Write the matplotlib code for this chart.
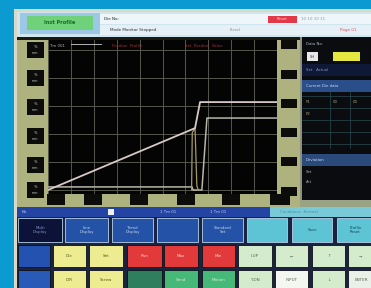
import matplotlib
matplotlib.use("Agg")
import matplotlib.pyplot as plt
from matplotlib.patches import Rectangle

# ---- data ----
pos_t = [0.0, 6.42, 6.64, 10.0]
pos_y = [0.0, 2.21, 3.14, 3.14]
spd_t = [0.0, 6.29, 6.33, 6.72, 6.94, 10.0]
spd_y = [0.11, 0.11, 0.0, 0.0, 2.57, 2.57]
prs_t = [6.27, 6.30, 6.42, 6.50, 6.56]
prs_y = [0.0, 2.05, 2.21, 0.15, 0.0]
x_ticks = list(range(0, 11))
y_ticks = list(range(0, 6))

row1_labels = ["Multi\nDisplay", "Line\nDisplay", "Trend\nDisplay", "", "Standard\nSet", "", "Save", "Profile\nReset"]
row2_labels = ["", "Die", "Set", "Run", "Max", "Min", "I-UP", "\u2190", "\u2191", "\u2192"]
row3_labels = ["", "DIR", "Screw", "", "Send", "Motion", "Y-DN", "INPUT", "\u2193", "ENTER"]

W, H = 371, 288
fig = plt.figure(figsize=(W / 100, H / 100), dpi=100)
fig.patch.set_facecolor("#0b9bd0")
bg = fig.add_axes([0, 0, 1, 1])
bg.set_xlim(0, W)
bg.set_ylim(H, 0)
bg.axis("off")


def rect(x0, y0, x1, y1, fc, ec="none", lw=0.0, z=1):
    bg.add_patch(Rectangle((x0, y0), x1 - x0, y1 - y0, facecolor=fc,
                           edgecolor=ec, linewidth=lw, zorder=z))


def txt(x, y, s, c="#202020", fs=3.2, ha="left", z=5, **kw):
    bg.text(x, y, s, color=c, fontsize=fs, ha=ha, va="center", zorder=z, **kw)


# screen frame
rect(14, 9, W, H, "#dcd8c8")
# header
rect(17, 12, W, 37, "#cfe6ee")
rect(20, 13, 100, 34, "#9cc8e6")
rect(27, 16, 93, 30, "#6fd27a")
txt(60, 23, "Inst Profile", c="#1d6a2a", fs=3.6, ha="center", weight="bold")
rect(100, 14, W, 24, "#eef6fa")
rect(100, 25, W, 35, "#e4f0f6")
txt(104, 19, "Die No:", fs=3.0)
rect(268, 16, 297, 23, "#e23848")
txt(282, 19.5, "Reset", c="#ffd0d0", fs=2.8, ha="center")
txt(301, 19.5, "10 10 10 11", c="#8a98a8", fs=3.0)
txt(110, 30, "Mode Monitor Stopped", c="#303030", fs=3.0)
txt(230, 30, "Fixed", c="#909090", fs=3.0)
txt(340, 30, "Page 01", c="#e05060", fs=3.0)

# side strips
rect(17, 37, 300, 207, "#adb27e")
rect(17, 37, 300, 40, "#1a1a14")
for yc in [50, 78, 107, 136, 165, 190]:
    rect(27, yc - 8, 44, yc + 8, "#0c0c0a")
    txt(35.5, yc - 3, "%", c="#c8c8c0", fs=2.6, ha="center")
    txt(35.5, yc + 3, "mm", c="#c8c8c0", fs=2.4, ha="center")
for yc in [44, 74, 103, 132, 161, 191]:
    rect(281, yc - 4.5, 297, yc + 4.5, "#0c0c0a")
for x0, x1 in [(47, 65), (84, 102), (130, 148), (177, 195), (222, 240), (270, 290)]:
    rect(x0, 194, x1, 205, "#0c0c0a")

# right data panel
rect(300, 37, W, 207, "#0a0c10")
rect(300, 37, 302, 207, "#8c9080")
txt(306, 44, "Data No.", c="#b0b8c0", fs=2.8)
rect(307, 52, 318, 61, "#e8e8e8")
txt(312.5, 56.5, "SH", c="#303030", fs=2.6, ha="center")
rect(333, 52, 360, 61, "#e6e640")
rect(302, 64, W, 76, "#101838")
txt(306, 70, "Set   Actual", c="#8090c0", fs=2.8)
rect(302, 80, W, 92, "#2a4e8a")
txt(306, 86, "Current Die data", c="#c8d8f0", fs=2.8)
for yy in [96, 108, 120, 132, 144]:
    bg.plot([302, W], [yy, yy], color="#2a4a50", lw=0.5, zorder=3)
bg.plot([330, 330], [92, 148], color="#2a4a50", lw=0.5, zorder=3)
bg.plot([350, 350], [92, 148], color="#2a4a50", lw=0.5, zorder=3)
txt(306, 102, "P1", c="#a09870", fs=2.8)
txt(306, 114, "P2", c="#a09870", fs=2.8)
txt(333, 102, "00", c="#a09870", fs=2.8)
txt(353, 102, "00", c="#a09870", fs=2.8)
rect(302, 154, W, 166, "#2a4a7a")
txt(306, 160, "Deviation", c="#c8d8f0", fs=2.8)
txt(306, 172, "Set", c="#a0a8b0", fs=2.8)
txt(306, 182, "Act", c="#a0a8b0", fs=2.8)
rect(300, 200, W, 207, "#9aa484")

# status bar
rect(17, 207, 270, 217, "#2444a4")
rect(270, 207, W, 217, "#78cad8")
txt(22, 212, "No", c="#c0d0f0", fs=2.8)
rect(108, 209, 114, 215, "#f0f0f0")
txt(160, 212, "1 Tm 01", c="#c0d0f0", fs=2.8)
txt(210, 212, "1 Tm 01", c="#c0d0f0", fs=2.8)
txt(280, 212, "Conditions  Normal", c="#4a90a8", fs=2.8)

# buttons
rect(17, 217, W, H, "#1a2440")
row1_x = [(18, 62), (65, 108), (112, 153), (157, 198), (202, 243), (247, 287), (292, 332), (337, 374)]
row1_c = ["#0c1238", "#2452a6", "#2452a6", "#2452a6", "#2452a6", "#5cc4d4", "#5cc4d4", "#5cc4d4"]
row1_t = ["#8090c0", "#c0d4f0", "#c0d4f0", "#c0d4f0", "#c0d4f0", "#1a4a60", "#1a4a60", "#1a4a60"]
for (x0, x1), c, tc, s in zip(row1_x, row1_c, row1_t, row1_labels):
    rect(x0, 218, x1, 242, c, ec="#b8d0e8", lw=0.6, z=2)
    txt((x0 + x1) / 2, 230, s, c=tc, fs=2.8, ha="center", linespacing=1.0)

row_x = [(18, 50), (53, 86), (89, 123), (127, 162), (164, 198), (202, 235), (238, 272), (275, 308), (312, 345), (348, 374)]
row2_c = ["#2452b0", "#eeec90", "#eeec90", "#e23a3a", "#e23a3a", "#e23a3a", "#d4eccc", "#d4eccc", "#d4eccc", "#d4eccc"]
row3_c = ["#2a5ab8", "#eeec90", "#eeec90", "#2f7e5e", "#46b878", "#46b878", "#d4eccc", "#f4f6f0", "#d4eccc", "#e8f0e8"]
row2_t = ["#c0d0f0", "#5a5a20", "#5a5a20", "#ffd0d0", "#ffd0d0", "#ffd0d0", "#5a6a50", "#5a6a50", "#5a6a50", "#5a6a50"]
row3_t = ["#c0d0f0", "#5a5a20", "#5a5a20", "#a0d0b0", "#d0f0d8", "#d0f0d8", "#5a6a50", "#5a6a50", "#5a6a50", "#5a6a50"]
for (x0, x1), c, tc, s in zip(row_x, row2_c, row2_t, row2_labels):
    rect(x0, 245, x1, 267, c, ec="#0c1018", lw=0.6, z=2)
    txt((x0 + x1) / 2, 256, s, c=tc, fs=3.0, ha="center")
for (x0, x1), c, tc, s in zip(row_x, row3_c, row3_t, row3_labels):
    rect(x0, 270, x1, 290, c, ec="#0c1018", lw=0.6, z=2)
    txt((x0 + x1) / 2, 280, s, c=tc, fs=3.0, ha="center")

# ---- the profile plot ----
ax = fig.add_axes([48 / W, 1 - 194 / H, (277 - 48) / W, (194 - 40) / H])
ax.set_facecolor("#040404")
ax.set_xlim(0, 10)
ax.set_ylim(-4 / 28, 5 + 10 / 28)
ax.set_xticks(x_ticks)
ax.set_yticks(y_ticks)
ax.grid(True, color="#55564c", lw=0.7)
ax.tick_params(length=0, labelbottom=False, labelleft=False)
for sp in ax.spines.values():
    sp.set_visible(False)
ax.plot(spd_t, spd_y, color="#b8b6a8", lw=1.1)
ax.plot(prs_t, prs_y, color="#a89a5c", lw=0.9)
ax.plot(pos_t, pos_y, color="#d8c8c6", lw=1.3)
ax.text(0.1, 5.15, "Tm 001", color="#b0b0b0", fontsize=2.8, va="center")
ax.plot([1.0, 2.3], [5.2, 5.2], color="#d0d0d0", lw=0.6)
ax.text(2.8, 5.15, "Position  Profile", color="#a03030", fontsize=2.8, va="center")
ax.text(6.0, 5.15, "Set  Position  Value", color="#a03040", fontsize=2.8, va="center")

fig.savefig("out.png", dpi=100, facecolor=fig.get_facecolor())
